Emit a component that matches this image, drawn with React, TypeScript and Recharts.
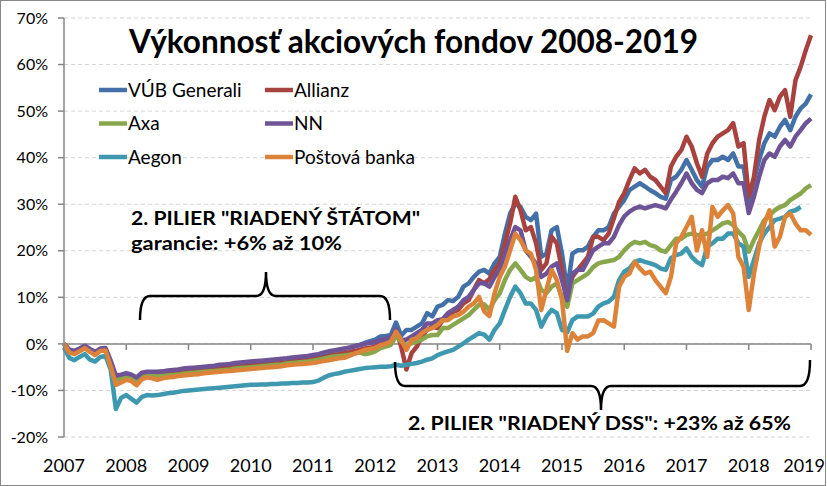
import React from 'react';
import { LineChart, Line, XAxis, YAxis, CartesianGrid, ReferenceLine, Legend } from 'recharts';

const START_YEAR = 2007;
const yearTicks = [2007, 2008, 2009, 2010, 2011, 2012, 2013, 2014, 2015, 2016, 2017, 2018, 2019];
const percentTicks = [-20, -10, 0, 10, 20, 30, 40, 50, 60, 70];

const titleText = 'Výkonnosť akciových fondov 2008-2019';
const noteStateLine1 = '2. PILIER "RIADENÝ ŠTÁTOM"';
const noteStateLine2 = 'garancie: +6% až 10%';
const noteDss = '2. PILIER "RIADENÝ DSS": +23% až 65%';

// monthly values in %, Jan 2007 .. Jan 2019
const vubGenerali = [
  0, -1.4, -1.7, -1.1, -0.5, -1.2, -1.9, -1.1, -1.0, -3.9, -7.4, -7.1, -6.7, -7.0, -7.7, -6.6, -6.4, -6.4, -6.4,
  -6.3, -6.1, -6.0, -5.9, -5.7, -5.6, -5.5, -5.4, -5.3, -5.1, -5.0, -4.9, -4.8, -4.6, -4.5, -4.4, -4.2, -4.1, -4.0, -3.9, -3.8, -3.7, -3.5, -3.4, -3.3, -3.1, -3.0, -2.9, -2.8, -2.6, -2.4, -2.1, -1.8, -1.5, -1.3, -1.1, -0.8, -0.5, -0.2, 0.2, 0.6, 0.9,
  1.6, 1.7, 1.9, 4.6, 1.8, 3.0, 3.0, 3.7, 4.4, 6.6, 5.9, 8.0, 8.4, 9.4, 9.2, 10.1, 12.3, 13.0, 14.4, 15.5,
  15.9, 15.1, 17.3, 18.7, 23.7, 28.0, 30.1, 29.4, 27.3, 26.6, 28.0, 18.7, 19.4, 24.4, 25.1, 19.4, 11.5, 19.4, 20.1, 20.1, 20.9, 23.0, 24.4, 24.4, 25.1, 28.0,
  29.5, 30.9, 33.0, 33.8, 34.5, 33.8, 33.0, 32.4, 31.6, 31.2, 35.2, 35.9, 37.4, 39.5, 37.4, 35.2, 33.8, 38.1, 39.5, 39.5, 40.2, 39.5, 40.9, 38.1, 38.1, 30.6, 35.2, 39.5, 43.1, 45.2, 44.5, 46.6, 48.1, 45.9, 48.8, 50.6, 51.6, 53.6,
];
const allianz = [
  0, -1.6, -2.0, -1.4, -0.8, -1.5, -2.1, -1.3, -1.2, -4.2, -7.8, -7.4, -7.0, -7.3, -8.0, -6.9, -6.7, -6.7, -6.8,
  -6.7, -6.6, -6.4, -6.3, -6.2, -6.0, -5.9, -5.8, -5.7, -5.6, -5.5, -5.4, -5.3, -5.2, -5.0, -4.9, -4.8, -4.7, -4.6, -4.5, -4.4, -4.3, -4.2, -4.1, -4.0, -3.8, -3.7, -3.6, -3.5, -3.3, -3.1, -2.9, -2.6, -2.4, -2.2, -2.0, -1.8, -1.5, -1.3, -1.0, -0.8, -0.6,
  0.1, 0.5, 0.9, 3.0, -0.6, -5.5, -2.0, -0.6, 1.6, 3.0, 3.7, 3.4, 5.1, 5.5, 6.9, 7.3, 8.7, 9.4, 11.6, 13.7,
  13.0, 13.9, 15.9, 17.3, 21.6, 25.9, 31.6, 28.7, 24.4, 25.1, 21.6, 15.9, 17.3, 23.0, 21.6, 15.9, 8.7, 14.4, 15.9, 17.3, 18.7, 23.0, 23.0, 22.3, 23.7, 27.0,
  30.5, 32.4, 35.2, 37.7, 36.6, 37.4, 35.9, 35.2, 33.8, 32.4, 38.1, 40.2, 41.6, 44.5, 42.4, 38.8, 35.9, 40.9, 43.1, 44.5, 45.2, 45.9, 47.4, 42.4, 43.1, 31.6, 35.9, 43.8, 48.8, 52.4, 50.2, 53.1, 54.5, 48.8, 56.6, 59.5, 63.1, 66.3,
];
const axa = [
  0, -1.5, -1.8, -1.2, -0.6, -1.3, -2.0, -1.2, -1.1, -4.1, -7.9, -7.5, -7.1, -7.4, -8.2, -7.0, -6.9, -6.9, -7.0,
  -6.9, -6.8, -6.7, -6.6, -6.4, -6.3, -6.2, -6.1, -6.0, -5.9, -5.8, -5.7, -5.6, -5.5, -5.3, -5.2, -5.1, -5.0, -4.9, -4.8, -4.7, -4.6, -4.5, -4.4, -4.2, -4.1, -4.0, -3.9, -3.8, -3.6, -3.4, -3.2, -2.9, -2.7, -2.6, -2.5, -2.3, -2.1, -1.8, -2.2, -2.0, -1.6,
  -0.9, -0.6, -0.2, 1.6, 0.5, -0.2, 0.1, 0.5, 0.9, 1.6, 1.9, 1.9, 3.4, 3.4, 4.1, 4.8, 5.5, 6.2, 7.3, 8.4,
  8.5, 7.3, 9.4, 10.9, 13.7, 15.9, 17.3, 15.9, 14.4, 13.7, 14.4, 11.6, 10.9, 12.3, 13.0, 10.1, 8.0, 13.0, 13.7, 14.4, 15.1, 16.5, 17.3, 17.6, 17.8, 18.0,
  18.7, 20.1, 21.2, 21.9, 21.6, 21.9, 21.2, 20.9, 20.1, 19.8, 21.2, 22.6, 22.6, 23.4, 23.7, 23.4, 23.4, 23.7, 24.4, 25.1, 25.9, 26.2, 25.5, 24.1, 23.0, 19.8, 22.3, 24.4, 26.6, 27.6, 28.7, 29.4, 29.8, 30.9, 31.6, 32.3, 33.4, 34.1,
];
const nn = [
  0, -1.2, -1.5, -1.0, -0.4, -1.1, -1.7, -1.0, -0.9, -3.6, -6.8, -6.6, -6.3, -6.6, -7.2, -6.2, -6.0, -6.0, -6.0,
  -5.9, -5.7, -5.6, -5.5, -5.3, -5.2, -5.1, -5.0, -4.9, -4.8, -4.7, -4.5, -4.4, -4.3, -4.1, -4.0, -3.9, -3.8, -3.7, -3.6, -3.5, -3.4, -3.3, -3.2, -3.1, -2.9, -2.8, -2.7, -2.6, -2.4, -2.2, -1.9, -1.6, -1.4, -1.2, -1.0, -0.8, -0.5, -0.3, 0.0, 0.2, 0.4,
  0.8, 1.1, 1.4, 3.0, 0.9, 0.9, 1.6, 2.3, 3.0, 4.4, 4.4, 5.1, 5.3, 6.6, 7.3, 8.0, 9.4, 10.1, 11.6, 13.0,
  13.0, 12.3, 14.4, 15.9, 19.4, 22.3, 25.1, 24.4, 20.1, 18.7, 17.3, 14.4, 15.1, 16.6, 17.3, 13.7, 9.4, 15.1, 15.9, 15.9, 18.0, 20.1, 20.9, 21.6, 21.6, 23.0,
  25.5, 27.4, 28.4, 29.1, 29.5, 29.1, 29.5, 29.8, 29.5, 29.1, 31.0, 32.7, 34.5, 36.6, 34.5, 33.1, 32.4, 34.5, 35.2, 35.2, 35.9, 35.6, 36.6, 34.5, 34.5, 28.1, 31.6, 35.9, 39.5, 40.9, 40.2, 42.4, 43.8, 42.4, 44.5, 45.9, 47.4, 48.4,
];
const aegon = [
  -0.8, -3.0, -3.5, -2.8, -2.2, -3.4, -3.8, -2.8, -2.6, -5.5, -14.0, -11.6, -11.0, -11.8, -12.6, -11.4, -11.0, -11.1, -11.0,
  -10.8, -10.6, -10.5, -10.3, -10.1, -10.0, -9.9, -9.8, -9.7, -9.6, -9.5, -9.4, -9.3, -9.2, -9.1, -9.0, -8.9, -8.8, -8.8, -8.7, -8.7, -8.6, -8.6, -8.5, -8.5, -8.4, -8.4, -8.3, -8.3, -8.2, -7.9, -7.3, -6.8, -6.5, -6.3, -6.0, -5.8, -5.6, -5.4, -5.2, -5.1, -5.0,
  -4.9, -4.9, -4.8, -4.5, -4.7, -4.5, -4.3, -4.1, -3.8, -3.4, -3.1, -2.4, -2.0, -1.6, -1.3, -0.6, 0.1, 0.9, 1.6, 2.3,
  2.0, 0.9, 3.0, 4.4, 7.3, 10.1, 12.3, 10.9, 8.7, 8.7, 7.3, 3.7, 5.9, 7.3, 6.6, 3.0, 2.5, 5.1, 5.9, 5.9, 5.9, 6.5, 8.0, 8.7, 9.1, 10.1,
  13.7, 15.5, 16.2, 17.6, 18.0, 17.6, 17.3, 16.9, 16.2, 15.9, 18.4, 19.1, 19.4, 20.5, 18.7, 17.6, 16.9, 20.9, 21.6, 22.6, 22.6, 23.7, 23.7, 21.6, 20.9, 14.4, 18.0, 21.6, 23.7, 25.1, 26.6, 26.9, 27.3, 28.4, 28.7, 29.4, null, null,
];
const postovaBanka = [
  0, -1.8, -2.2, -1.6, -0.9, -1.7, -2.4, -1.5, -1.4, -4.8, -8.8, -8.3, -7.7, -8.0, -8.9, -7.6, -7.2, -7.4, -7.7,
  -7.4, -7.2, -7.1, -6.9, -6.8, -6.7, -6.6, -6.5, -6.3, -6.2, -6.1, -6.0, -5.9, -5.8, -5.7, -5.6, -5.5, -5.4, -5.3, -5.2, -5.1, -5.0, -4.9, -4.8, -4.6, -4.5, -4.4, -4.3, -4.2, -4.1, -3.9, -3.7, -3.5, -3.3, -3.1, -3.0, -2.6, -2.1, -1.7, -1.3, -1.1, -0.9,
  -0.3, 0.0, 0.5, 2.6, 0.9, -1.3, 0.9, 1.2, 2.3, 3.0, 3.4, 4.1, 5.1, 5.1, 5.9, 6.2, 6.9, 8.0, 8.7, 10.1,
  7.0, 6.0, 10.9, 14.4, 16.6, 20.1, 23.7, 22.3, 20.1, 19.4, 15.9, 7.3, 11.6, 15.9, 13.7, 9.4, -1.5, 2.3, 0.9, 1.6, 1.6, 2.3, 5.0, 5.1, 4.4, 3.7,
  12.3, 14.4, 15.1, 17.6, 16.2, 15.1, 15.5, 13.7, 12.3, 10.9, 14.4, 21.6, 23.0, 25.1, 27.3, 20.1, 24.4, 18.7, 29.4, 27.3, 28.7, 29.8, 28.0, 18.7, 16.6, 7.3, 15.1, 20.9, 25.9, 28.7, 20.9, 23.0, 27.3, 28.0, 25.9, 24.4, 24.4, 23.4,
];

const seriesNames = ['VÚB Generali', 'Allianz', 'Axa', 'NN', 'Aegon', 'Poštová banka'];
const seriesKeys = ['vub', 'allianz', 'axa', 'nn', 'aegon', 'postova'];
const seriesColors = ['#4470A8', '#A8423F', '#88A64B', '#6E5496', '#3D98B0', '#DC8339'];
const seriesValues = [vubGenerali, allianz, axa, nn, aegon, postovaBanka];

const data = vubGenerali.map((_, i) => {
  const row: Record<string, number | null> = { t: START_YEAR + i / 12 };
  seriesKeys.forEach((k, s) => {
    row[k] = seriesValues[s][i];
  });
  return row;
});

const FONT = 'Lato, "Noto Sans", sans-serif';
const LAST_YEAR = yearTicks[yearTicks.length - 1];

function LegendContent(props: any) {
  const items = [...(props.payload ?? [])].sort(
    (a: any, b: any) => seriesNames.indexOf(String(a.value)) - seriesNames.indexOf(String(b.value)),
  );
  return (
    <svg width={340} height={100} style={{ display: 'block', overflow: 'visible' }}>
      {items.map((e: any, i: number) => {
        const col = i % 2;
        const row = Math.floor(i / 2);
        const x = col * 166;
        const y = 17 + row * 33.5;
        return (
          <g key={String(e.value)}>
            <line x1={x} x2={x + 28} y1={y} y2={y} stroke={e.color} strokeWidth={4.5} />
            <text x={x + 29} y={y} dy="0.35em" fontFamily={FONT} fontSize={19} fill="#000">
              {e.value}
            </text>
          </g>
        );
      })}
    </svg>
  );
}

function YearTick(props: any) {
  const { x, y, payload } = props;
  const isLast = payload.value === LAST_YEAR;
  return (
    <text
      x={isLast ? x + 14 : x}
      y={y}
      dy="0.71em"
      textAnchor={isLast ? 'end' : 'middle'}
      fontFamily={FONT}
      fontSize={18}
      fill="#000"
    >
      {payload.value}
    </text>
  );
}

export default function App() {
  return (
    <div style={{ position: 'absolute', left: 0, top: 0, width: 827, height: 486, background: '#fff' }}>
      <LineChart
        width={827}
        height={486}
        data={data}
        margin={{ top: 18, right: 16, left: 0, bottom: 0 }}
        style={{ fontFamily: FONT }}
      >
        <CartesianGrid vertical={false} stroke="#d4d4d4" strokeDasharray="4 3" />
        <XAxis
          type="number"
          dataKey="t"
          domain={[2007, 2019]}
          ticks={yearTicks}
          interval={0}
          axisLine={false}
          tickLine={false}
          height={49}
          tickSize={6}
          tickMargin={16}
          tick={<YearTick />}
        />
        <YAxis
          domain={[-20, 70]}
          ticks={percentTicks}
          interval={0}
          width={64}
          tickSize={6}
          tickMargin={10}
          tickFormatter={(v: number) => `${v}%`}
          axisLine={{ stroke: '#868686', strokeWidth: 1.5 }}
          tickLine={{ stroke: '#868686', strokeWidth: 1.5 }}
          tick={{ fill: '#000', fontSize: 16, fontFamily: FONT }}
        />
        <ReferenceLine y={0} stroke="#868686" strokeWidth={1.5} />
        {yearTicks.slice(1).map((yr) => (
          <ReferenceLine
            key={yr}
            segment={[{ x: yr, y: 0 }, { x: yr, y: -1.3 }]}
            stroke="#868686"
            strokeWidth={1.5}
          />
        ))}
        <Legend
          layout="horizontal"
          verticalAlign="middle"
          align="center"
          content={<LegendContent />}
          wrapperStyle={{ left: 99, top: 73, width: 340, height: 100 }}
        />
        {seriesKeys.map((k, s) => (
          <Line
            key={k}
            type="linear"
            dataKey={k}
            name={seriesNames[s]}
            stroke={seriesColors[s]}
            strokeWidth={4.5}
            strokeLinejoin="round"
            dot={false}
            activeDot={false}
            isAnimationActive={false}
          />
        ))}
      </LineChart>
      <svg
        width={827}
        height={486}
        style={{ position: 'absolute', left: 0, top: 0, pointerEvents: 'none' }}
      >
        <text x={129} y={53} fontFamily={FONT} fontWeight={700} fontSize={32} fill="#000" textLength={569} lengthAdjust="spacingAndGlyphs">
          {titleText}
        </text>
        <text x={131} y={225} fontFamily={FONT} fontWeight={700} fontSize={19} fill="#000" textLength={289} lengthAdjust="spacingAndGlyphs">
          {noteStateLine1}
        </text>
        <text x={131} y={250} fontFamily={FONT} fontWeight={700} fontSize={19} fill="#000" textLength={211} lengthAdjust="spacingAndGlyphs">
          {noteStateLine2}
        </text>
        <text x={408} y={430} fontFamily={FONT} fontWeight={700} fontSize={19} fill="#000" textLength={383} lengthAdjust="spacingAndGlyphs">
          {noteDss}
        </text>
        <path
          d="M140,320 Q140,296 150,296 L256,296 Q266,296 266,272 Q266,296 276,296 L380,296 Q390,296 390,320"
          fill="none"
          stroke="#000"
          strokeWidth={2.5}
        />
        <path
          d="M395,362 Q395,386 405,386 L591,386 Q601,386 601,410 Q601,386 611,386 L800,386 Q810,386 810,360"
          fill="none"
          stroke="#000"
          strokeWidth={2.5}
        />
        <rect x={0.5} y={0.5} width={825} height={485} fill="none" stroke="#868686" strokeWidth={1} />
      </svg>
    </div>
  );
}
